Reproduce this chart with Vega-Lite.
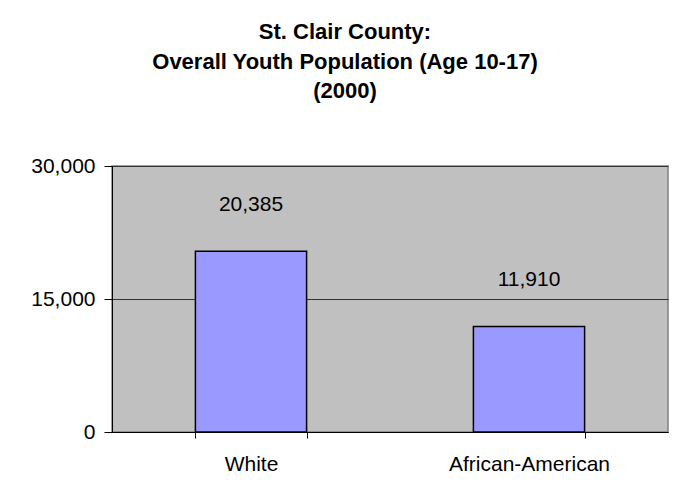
{
  "$schema": "https://vega.github.io/schema/vega-lite/v6.json",
  "autosize": "none",
  "width": 556,
  "height": 266,
  "padding": {"left": 112, "top": 166, "right": 13, "bottom": 55},
  "background": "white",
  "title": {
    "text": ["St. Clair County:", "Overall Youth Population (Age 10-17)", "(2000)"],
    "font": "Liberation Sans",
    "fontSize": 22,
    "fontWeight": "bold",
    "color": "black",
    "anchor": "middle",
    "dx": -45,
    "lineHeight": 29.5,
    "offset": 52
  },
  "data": {
    "values": [
      {"group": "White", "population": 20385},
      {"group": "African-American", "population": 11910}
    ]
  },
  "encoding": {
    "x": {
      "field": "group",
      "type": "nominal",
      "sort": null,
      "scale": {"paddingInner": 0.6, "paddingOuter": 0.3},
      "axis": {
        "title": null,
        "labelAngle": 0,
        "labelFont": "Liberation Sans",
        "labelFontSize": 21,
        "labelColor": "black",
        "labelPadding": 15,
        "tickBand": "extent",
        "tickSize": 6,
        "tickColor": "black",
        "domainColor": "black",
        "grid": false
      }
    },
    "y": {
      "field": "population",
      "type": "quantitative",
      "scale": {"domain": [0, 30000], "nice": false},
      "axis": {
        "title": null,
        "values": [0, 15000, 30000],
        "format": ",d",
        "labelFont": "Liberation Sans",
        "labelFontSize": 21,
        "labelColor": "black",
        "labelPadding": 9,
        "tickSize": 8,
        "tickColor": "black",
        "domainColor": "black",
        "grid": true,
        "gridColor": "#333333",
        "gridWidth": 1
      }
    }
  },
  "layer": [
    {
      "mark": {"type": "bar", "color": "#9999FF", "stroke": "black", "strokeWidth": 1.5}
    },
    {
      "mark": {"type": "text", "font": "Liberation Sans", "fontSize": 21, "color": "black", "baseline": "alphabetic", "dy": -40},
      "encoding": {
        "text": {"field": "population", "type": "quantitative", "format": ",d"}
      }
    }
  ],
  "config": {
    "view": {"fill": "#C0C0C0", "stroke": "#808080", "strokeWidth": 1.5}
  }
}
